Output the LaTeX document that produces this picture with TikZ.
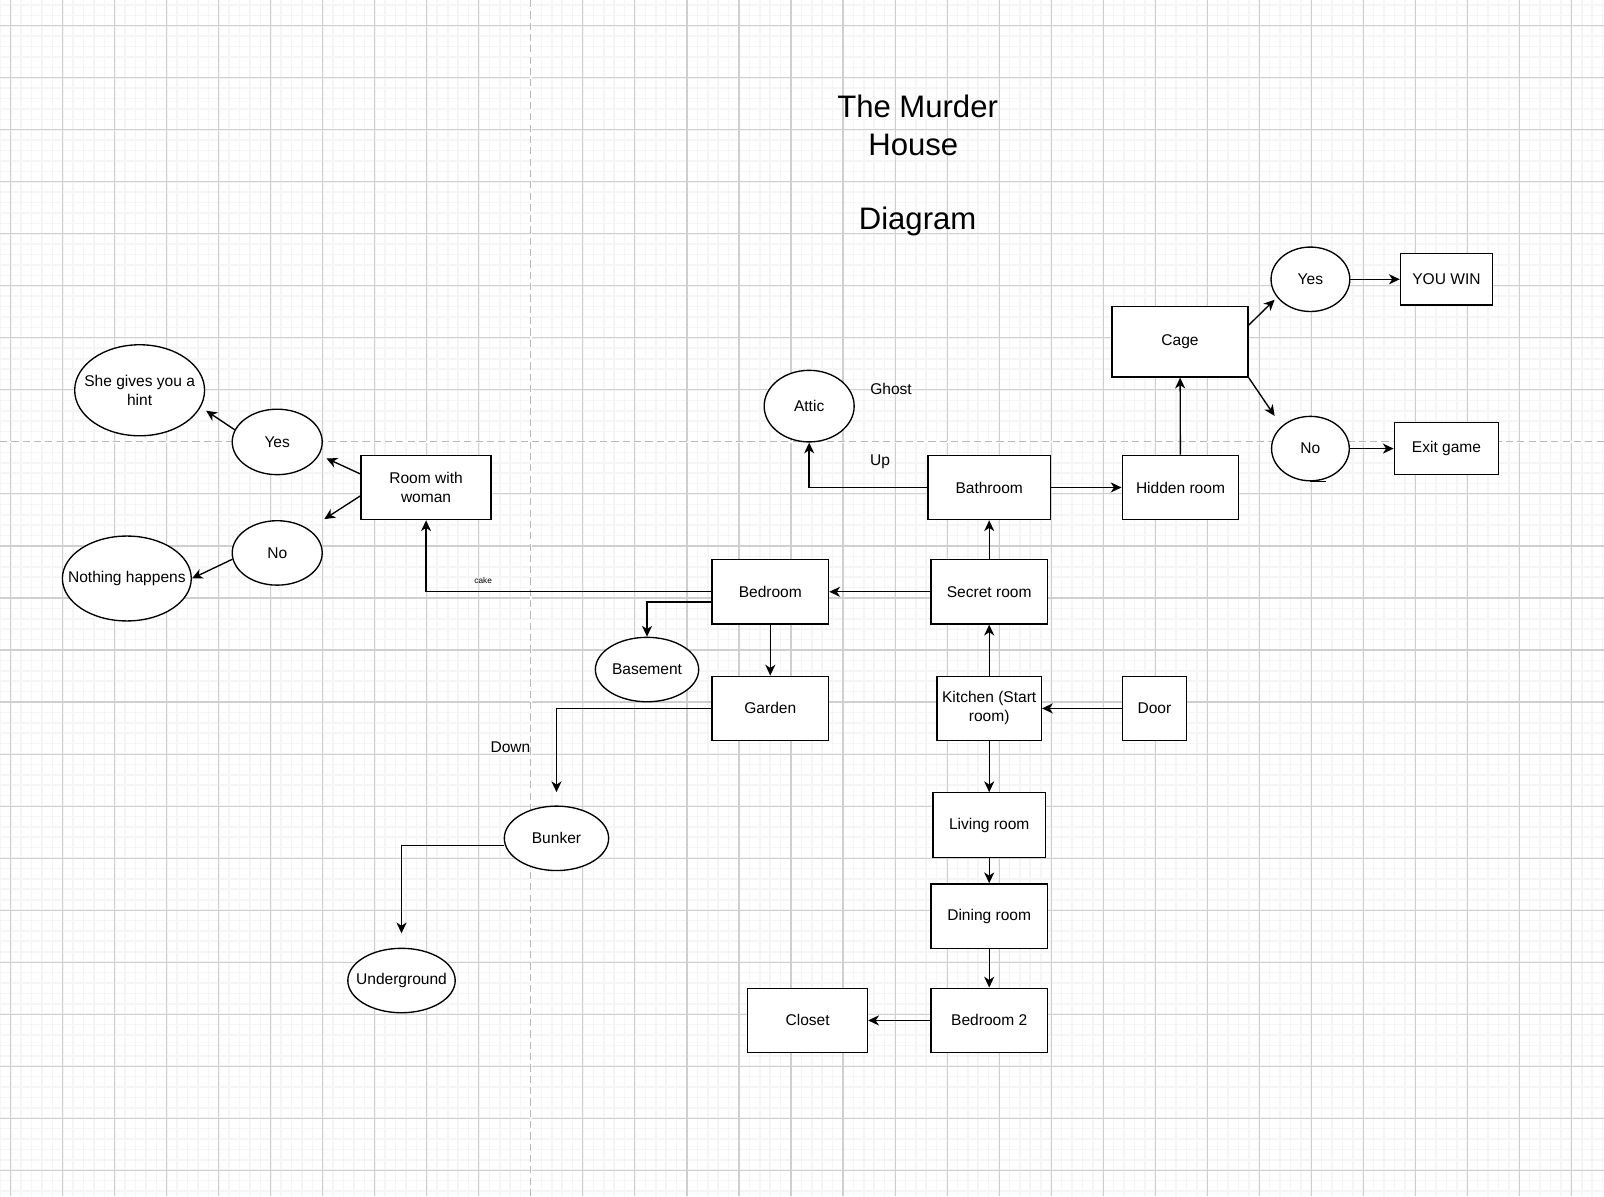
\documentclass[tikz,border=0pt]{standalone}
\usepackage{fontspec}
\setmainfont{Liberation Sans}
\usepackage{tikz}
\usetikzlibrary{arrows.meta,shapes.geometric}

\begin{document}
\begin{tikzpicture}[>={Stealth[length=6pt,width=5.6pt,inset=1.8pt]},
x=0.02cm, y=-0.02cm, line width=0.75pt,
font=\fontsize{8.65}{10.6}\selectfont,
room/.style={draw, fill=white, inner sep=0pt, align=center,
  minimum width=2.28cm, minimum height=1.26cm},
oval/.style={ellipse, draw, fill=white, inner xsep=-0.4cm, inner ysep=0pt,
  align=center, minimum width=2.04cm, minimum height=1.26cm},
minor/.style={black!4, line width=0.9pt},
major/.style={black!19, line width=0.6pt},
pagebreak/.style={black!28, line width=0.6pt, dash pattern=on 4pt off 2.3pt}]
\useasboundingbox (0,0) rectangle (1568,1169.2);
% grid paper
\fill[white] (0,0) rectangle (1568,1169.2);
\foreach \i in {-51,...,103}
  \draw[minor] ({519+10.17*\i},0) -- ++(0,1169.2);
\foreach \i in {-42,...,72}
  \draw[minor] (0,{432+10.17*\i}) -- ++(1568,0);
\foreach \i in {-10,...,20}
  \draw[major] ({519+50.85*\i},0) -- ++(0,1169.2);
\foreach \i in {-8,...,14}
  \draw[major] (0,{432+50.85*\i}) -- ++(1568,0);
\draw[white, line width=1pt] (519,0) -- (519,1169.2) (0,432) -- (1568,432);
\draw[pagebreak] (519,0) -- (519,1169.2) (0,432) -- (1568,432);
% title
\node[font=\fontsize{17.3}{20.8}\selectfont, align=center] (title) at (897,162)
  {The Murder\\House\kern.28em\\[20.8pt]Diagram};
% rooms
\node[oval, minimum width=1.54cm] (yesR) at (1281,273) {Yes};
\node[room, minimum width=1.8cm, minimum height=1cm] (win) at (1414,273) {YOU WIN};
\node[room, minimum width=2.66cm, minimum height=1.38cm] (cage) at (1153.5,334) {Cage};
\node[oval, minimum width=1.52cm] (noR) at (1281,438.5) {No};
\node[room, minimum width=2.04cm, minimum height=1.02cm] (exit) at (1414,438.5) {Exit game};
\node[room] (hidden) at (1154,476.5) {Hidden room};
\node[room, minimum width=2.4cm] (bath) at (967,476.5) {Bathroom};
\node[oval, minimum width=1.76cm, minimum height=1.4cm] (attic) at (791,397) {Attic};
\node (ghost) at (871,380) {Ghost};
\node[room] (secret) at (967,578.5) {Secret room};
\node[room] (bed) at (753,578.5) {Bedroom};
\node[oval, minimum width=2.02cm] (base) at (632.5,654.5) {Basement};
\node[room] (garden) at (753,692.5) {Garden};
\node[room, minimum width=2.04cm] (kitch) at (967,692.5) {Kitchen (Start\\room)};
\node[room, minimum width=1.26cm] (door) at (1128.5,692.5) {Door};
\node[room, minimum width=2.2cm] (living) at (967,806.5) {Living room};
\node[room] (dining) at (967,895.5) {Dining room};
\node[room] (bed2) at (967,997.5) {Bedroom 2};
\node[room, minimum width=2.34cm] (closet) at (789.5,997.5) {Closet};
\node[oval] (bunker) at (544,819.5) {Bunker};
\node[oval, minimum width=2.1cm] (under) at (392.5,958.5) {Underground};
\node[room, minimum width=2.54cm] (woman) at (416.5,476.5) {Room with\\woman};
\node[oval, minimum width=1.76cm, minimum height=1.28cm] (yesL) at (271,432) {Yes};
\node[oval, minimum width=1.76cm] (noL) at (271,540.5) {No};
\node[oval, minimum width=2.54cm, minimum height=1.78cm] (hint) at (136.5,381.5) {She gives you a\\hint};
\node[oval, minimum width=2.52cm, minimum height=1.66cm] (nothing) at (124,565.5) {Nothing happens};
% ways through the house
\path[->] (yesR) edge (win);
\draw[->] ([yshift=-0.38cm]cage.north east) -- ([shift={(-35,20)}]yesR.center);
\draw[->] (cage.south east) -- ([shift={(-35,-32)}]noR.center);
\path[->] (noR) edge (exit);
\draw (noR.south) -- ++(15,0);
\path[->] (hidden) edge (cage);
\path[->] (bath) edge (hidden);
\draw[->] (bath.west) -| node[pos=0.2, yshift=0.5cm]{Up} (attic.south);
\path[->] (secret) edge (bath);
\path[->] (secret) edge (bed);
\path[->] (kitch) edge (secret);
\path[->] (door) edge (kitch);
\path[->] (kitch) edge (living);
\path[->] (living) edge (dining);
\path[->] (dining) edge (bed2);
\path[->] (bed2) edge (closet);
\draw[->] (bed.west) -| node[pos=0.4, yshift=0.22cm, font=\fontsize{4.6}{5}\selectfont]{cake} (woman.south);
\draw[->] ([yshift=-0.2cm]bed.west) -| (base.north);
\path[->] (bed) edge (garden);
\draw[->] (garden.west) -| node[pos=0.73, xshift=-0.9cm]{Down} ([yshift=0.26cm]bunker.north);
\draw[->] ([yshift=-0.14cm]bunker.west) -| ([yshift=0.28cm]under.north);
\draw[->] ([yshift=-0.38cm]woman.north west) -- ([shift={(48,16)}]yesL.center);
\draw[->] ([yshift=0.48cm]woman.south west) -- ([shift={(46,-33)}]noL.center);
\draw[->] (yesL.164) -- ([shift={(65,20)}]hint.center);
\draw[->] (noL.188) -- (nothing.east);
\end{tikzpicture}
\end{document}
